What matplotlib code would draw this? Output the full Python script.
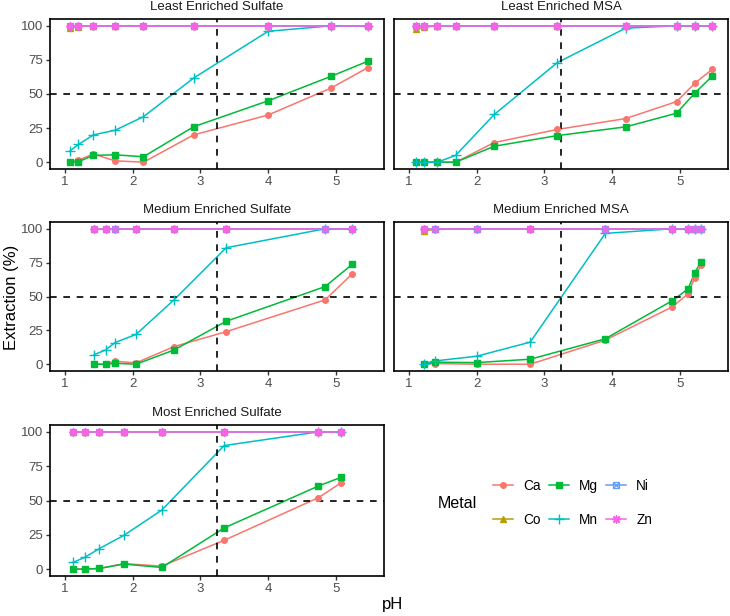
import matplotlib
matplotlib.use("Agg")
import matplotlib.pyplot as plt
from matplotlib.lines import Line2D
from matplotlib.legend_handler import HandlerTuple

plt.rcParams['font.family'] = ['Liberation Sans', 'DejaVu Sans']

metals = ["Ca", "Co", "Mg", "Mn", "Ni", "Zn"]
colors = {"Ca": "#F8766D", "Co": "#B79F00", "Mg": "#00BA38",
          "Mn": "#00BFC4", "Ni": "#619CFF", "Zn": "#F564E3"}

panel_titles = ["Least Enriched Sulfate", "Least Enriched MSA",
                "Medium Enriched Sulfate", "Medium Enriched MSA",
                "Most Enriched Sulfate"]

# Least Enriched Sulfate
les_ph = [1.08, 1.20, 1.42, 1.74, 2.16, 2.90, 4.00, 4.93, 5.47]
les_ca = [0, 1.5, 6, 1, 0, 20, 34.6, 54.4, 69.3]
les_co = [98.5, 99.5, 100, 100, 100, 100, 100, 100, 100]
les_mg = [0, 0.3, 5, 5.4, 4, 26, 45, 63, 74]
les_mn = [8.5, 13, 20, 23.4, 33.4, 61.7, 96, 100, 100]
les_ni = [100, 100, 100, 100, 100, 100, 100, 100, 100]
les_zn = [100, 100, 100, 100, 100, 100, 100, 100, 100]

# Least Enriched MSA
lem_ph = [1.11, 1.23, 1.42, 1.69, 2.26, 3.19, 4.20, 4.95, 5.22, 5.48]
lem_ca = [0, 0, 0, 0, 14.4, 24, 32, 44.4, 57.8, 68.3]
lem_co = [97.8, 99, 100, 100, 100, 100, 100, 100, 100, 100]
lem_mg = [0, 0, 0, 0, 11.7, 19.5, 25.9, 35.9, 50.7, 63.2]
lem_mn = [0, 0, 0, 5, 35, 73, 98.3, 100, 100, 100]
lem_ni = [100, 100, 100, 100, 100, 100, 100, 100, 100, 100]
lem_zn = [100, 100, 100, 100, 100, 100, 100, 100, 100, 100]

# Medium Enriched Sulfate
mes_ph = [1.43, 1.60, 1.74, 2.05, 2.61, 3.38, 4.84, 5.24]
mes_ca = [0, 0, 2.2, 1, 13, 24, 47.5, 66.6]
mes_co = [100, 100, 100, 100, 100, 100, 100, 100]
mes_mg = [0, 0, 0.7, 0, 10.5, 31.7, 57.3, 73.7]
mes_mn = [7, 10.5, 16, 22, 47.5, 86, 100, 100]
mes_ni = [100, 100, 100, 100, 100, 100, 100, 100]
mes_zn = [100, 100, 100, 100, 100, 100, 100, 100]

# Medium Enriched MSA
mem_ph = [1.22, 1.38, 2.00, 2.79, 3.90, 4.89, 5.12, 5.22, 5.31]
mem_ca = [0, 0.5, 0, 0, 17.8, 42.4, 52, 64, 73]
mem_co = [98.5, 99.5, 100, 100, 100, 100, 100, 100, 100]
mem_mg = [0, 1.5, 1.2, 3.7, 18.8, 47, 55.6, 67.6, 75.6]
mem_mn = [0.5, 2.4, 5.9, 16.3, 96.6, 100, 100, 100, 100]
mem_ni = [100, 100, 100, 100, 100, 100, 100, 100, 100]
mem_zn = [100, 100, 100, 100, 100, 100, 100, 100, 100]

# Most Enriched Sulfate
mos_ph = [1.12, 1.29, 1.51, 1.87, 2.43, 3.35, 4.74, 5.08]
mos_ca = [0, 0, 0.5, 4, 2.2, 21, 52, 63]
mos_co = [100, 100, 100, 100, 100, 100, 100, 100]
mos_mg = [0, 0, 0.5, 3.7, 1.2, 30, 60.5, 67]
mos_mn = [4.9, 8.5, 15, 24.6, 43, 90, 100, 100]
mos_ni = [100, 100, 100, 100, 100, 100, 100, 100]
mos_zn = [100, 100, 100, 100, 100, 100, 100, 100]

panels = [
    (les_ph, [les_ca, les_co, les_mg, les_mn, les_ni, les_zn]),
    (lem_ph, [lem_ca, lem_co, lem_mg, lem_mn, lem_ni, lem_zn]),
    (mes_ph, [mes_ca, mes_co, mes_mg, mes_mn, mes_ni, mes_zn]),
    (mem_ph, [mem_ca, mem_co, mem_mg, mem_mn, mem_ni, mem_zn]),
    (mos_ph, [mos_ca, mos_co, mos_mg, mos_mn, mos_ni, mos_zn]),
]

x_ticks = [1, 2, 3, 4, 5]
y_ticks = [0, 25, 50, 75, 100]
ph_threshold = 3.25
ext_threshold = 50

W, H = 730, 616
fig = plt.figure(figsize=(W / 100, H / 100), dpi=100)

cols = [(50, 384), (394, 728)]
rows = [(19, 169), (222, 371), (425, 576)]

marker_style = {
    "Ca": dict(marker="o", ms=4.0),
    "Co": dict(marker="^", ms=4.5),
    "Mg": dict(marker="s", ms=4.2),
    "Mn": dict(marker="+", ms=7.0, mew=1.0),
    "Ni": dict(marker="s", ms=4.5, mfc="none", mew=0.9),
    "Zn": dict(marker=(8, 2, 0), ms=6.0, mew=1.0),
}

def draw_points(ax, m, x, y):
    st = dict(marker_style[m])
    ax.plot(x, y, ls="none", color=colors[m], zorder=4, clip_on=False, **st)
    if m == "Ni":
        ax.plot(x, y, ls="none", marker="x", ms=3.8, mew=0.9,
                color=colors[m], zorder=4, clip_on=False)

for i, (ph, series) in enumerate(panels):
    r, c = divmod(i, 2)
    l, rr = cols[c]
    t, b = rows[r]
    ax = fig.add_axes([l / W, (H - b) / H, (rr - l) / W, (b - t) / H])
    for m, vals in zip(metals, series):
        ax.plot(ph, vals, color=colors[m], lw=1.1, zorder=2)
    ax.axvline(ph_threshold, color="black", lw=1.2, ls=(0, (4, 4)), zorder=3)
    ax.axhline(ext_threshold, color="black", lw=1.2, ls=(0, (4, 4)), zorder=3)
    for m, vals in zip(metals, series):
        draw_points(ax, m, ph, vals)
    ax.set_xlim(0.78, 5.71)
    ax.set_ylim(-5, 105)
    ax.set_xticks(x_ticks)
    ax.set_yticks(y_ticks)
    ax.tick_params(labelsize=9.5, labelcolor="#4D4D4D", length=3, width=1.0,
                   color="#333333", pad=2)
    for s in ax.spines.values():
        s.set_linewidth(1.2)
        s.set_color("black")
    if c == 1:
        ax.set_yticklabels([])
        ax.tick_params(axis="y", length=0)
    fig.text((l + rr) / 2 / W, 1 - (t - 12) / H, panel_titles[i],
             ha="center", va="center", fontsize=9.5, color="#1A1A1A")

fig.text(12 / W, 1 - 297 / H, "Extraction (%)", rotation=90,
         ha="center", va="center", fontsize=12, color="black")
fig.text(393 / W, 1 - 605 / H, "pH", ha="center", va="center",
         fontsize=12, color="black")

# legend
handles = []
for m in metals:
    st = dict(marker_style[m])
    h = Line2D([], [], color=colors[m], lw=1.1, **st)
    if m == "Ni":
        h2 = Line2D([], [], color=colors[m], lw=0, marker="x", ms=3.8, mew=0.9)
        handles.append((h, h2))
    else:
        handles.append(h)

leg = fig.legend(handles, metals, ncol=3, loc="center left",
                 bbox_to_anchor=(486 / W, 1 - 503 / H), frameon=False,
                 fontsize=9.8, handlelength=1.5, handletextpad=0.75,
                 columnspacing=0.55, labelspacing=1.45, borderpad=0,
                 handler_map={tuple: HandlerTuple(ndivide=1, pad=0)})
fig.text(457 / W, 1 - 503 / H, "Metal", ha="center", va="center",
         fontsize=11.5, color="black")

fig.savefig("out.png", dpi=100, facecolor="white")
